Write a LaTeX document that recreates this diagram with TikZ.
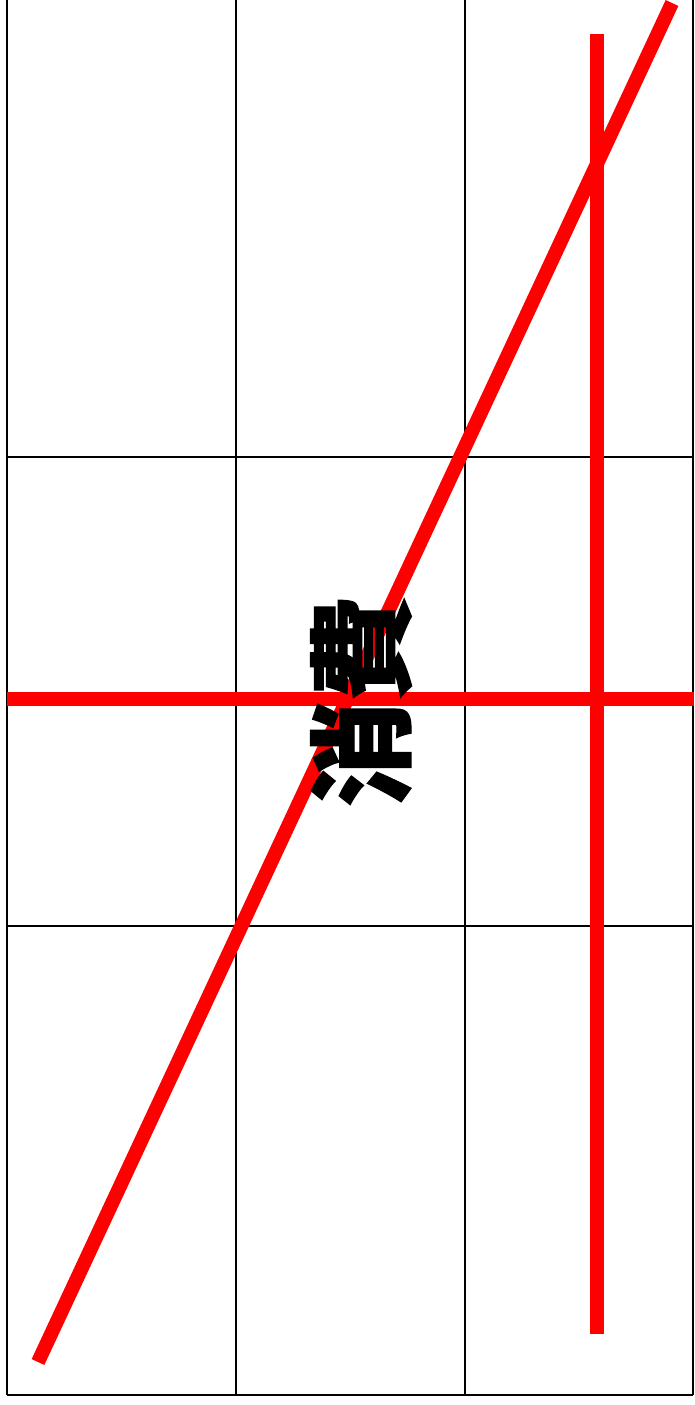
\documentclass[tikz,border=0pt]{standalone}
\usepackage{fontspec}
\newfontfamily\cjk[FakeBold=1.2]{Noto Sans CJK JP}
\begin{document}
\begin{tikzpicture}[x=1pt,y=-1pt,
  gridline/.style={black,line width=2pt},
  redline/.style={red,line width=14pt},
  label/.style={font=\cjk\bfseries\fontsize{106}{106}\selectfont,inner sep=0pt,rotate=90}]
\useasboundingbox (0,0) rectangle (694,1405);
% grid
\foreach \x in {7,236,465,693} \draw[gridline] (\x,-20) -- (\x,1395);
\foreach \y in {457,926,1395} \draw[gridline] (7,\y) -- (693,\y);
% red lines
\coordinate (hl) at (7,699);
\coordinate (hr) at (694,699);
\coordinate (vt) at (597,34);
\coordinate (vb) at (597,1334);
\coordinate (ds) at (38,1362);
\coordinate (de) at (672,3);
\draw[redline] (hl) -- (hr);
\draw[redline] (vt) -- (vb);
\draw[redline] (ds) -- (de);
\node[label] (t) at (361,701) {消費};
\end{tikzpicture}
\end{document}
